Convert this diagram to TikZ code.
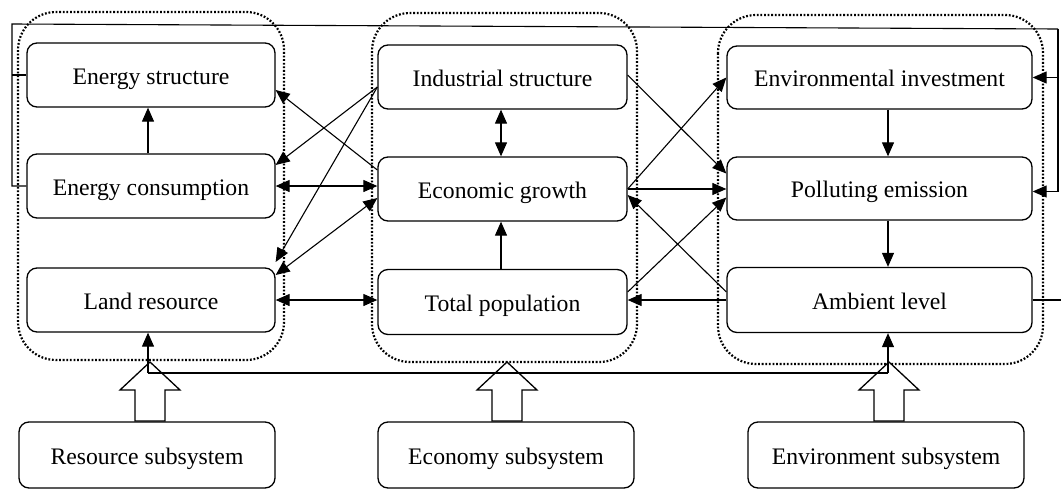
\documentclass[tikz,border=0pt]{standalone}
\usepackage{fontspec}
\setmainfont{Liberation Serif}
\usetikzlibrary{arrows.meta,calc}
\begin{document}
\begin{tikzpicture}[x=1pt,y=-1pt,
  box/.style={draw, line width=1.3pt, rounded corners=10pt, inner sep=0pt,
    text height=20pt, text depth=2pt,
    font=\fontsize{23.7}{28}\selectfont},
  group/.style={line width=2.2pt, dash pattern=on 1.8pt off 1.8pt, rounded corners=38pt},
  link/.style={line width=1.1pt},
  arr/.style={link, -{Triangle[length=14pt,width=12pt]}},
  biarr/.style={link, {Triangle[length=14pt,width=12pt]}-{Triangle[length=14pt,width=12pt]}},
  hollow/.style={draw, line width=1.3pt, fill=white},
  uparrow/.pic={\draw[hollow] (-15,0) -- (-15,-31) -- (-30,-31) -- (0,-59)
      -- (30,-31) -- (15,-31) -- (15,0) -- cycle;}]
\useasboundingbox (0,0) rectangle (1061,490);

% subsystem groups
\draw[group] (18,12) rectangle (284,360);
\draw[group] (372,13) rectangle (637,362);
\draw[group] (718,15) rectangle (1043,364);

% resource subsystem
\node[box, minimum width=248pt, minimum height=64pt] (es) at (151,75) {Energy structure};
\node[box, minimum width=248pt, minimum height=64pt] (ec) at (151,186) {Energy consumption};
\node[box, minimum width=248pt, minimum height=64pt] (land) at (151,300) {Land resource};

% economy subsystem
\node[box, minimum width=249pt, minimum height=64pt] (ind) at (502.5,77) {Industrial structure};
\node[box, minimum width=249pt, minimum height=64pt] (econ) at (502.5,189) {Economic growth};
\node[box, minimum width=249pt, minimum height=65pt] (total) at (502.5,302) {Total population};

% environment subsystem
\node[box, minimum width=305pt, minimum height=63pt] (env) at (879.5,77.5) {Environmental investment};
\node[box, minimum width=305pt, minimum height=63pt] (pol) at (879.5,188.5) {Polluting emission};
\node[box, minimum width=305pt, minimum height=65pt] (amb) at (879.5,300) {Ambient level};

% subsystem labels
\node[box, minimum width=256pt, minimum height=66pt] (res) at (147,455) {Resource subsystem};
\node[box, minimum width=256pt, minimum height=66pt] (eco) at (506,455) {Economy subsystem};
\node[box, minimum width=276pt, minimum height=66pt] (envs) at (886,455) {Environment subsystem};

% helper coordinates
\coordinate (tl) at (12,24);
\coordinate (tr) at (1058,29);
\coordinate (bl) at (148,373);
\coordinate (br) at (888,373);
\coordinate (mx) at (501,0);
\coordinate (ar) at (1061,300);

% links inside the groups
\draw[arr] (ec.north -| bl) -- (es.south -| bl);
\draw[biarr] (ind.south -| mx) -- (econ.north -| mx);
\draw[arr] (total.north -| mx) -- (econ.south -| mx);
\draw[arr] (env.south -| br) -- (pol.north -| br);
\draw[arr] (pol.south -| br) -- (amb.north -| br);

% resource <-> economy
\draw[arr] ([yshift=19pt]econ.west) -- ([yshift=-15pt]es.east);
\draw[arr] ([yshift=-10pt]ind.west) -- ([yshift=21pt]ec.east);
\draw[arr] ([yshift=-10pt]ind.west) -- ([yshift=38pt]land.east);
\draw[biarr] ([yshift=-9pt]econ.west) -- ([yshift=25pt]land.east);
\draw[biarr] (ec.east) -- (ec.east -| econ.west);
\draw[biarr] (land.east) -- (land.east -| total.west);

% economy <-> environment
\draw[arr] ([yshift=2pt]ind.east) -- ([yshift=15pt]pol.west);
\draw[arr] (econ.east) -- (env.west);
\draw[arr] (econ.east) -- (econ.east -| pol.west);
\draw[arr] ([yshift=10pt]total.east) -- ([yshift=-9pt]pol.west);
\draw[arr] ([yshift=8pt]amb.west) -- ([yshift=-6pt]econ.east);
\draw[arr] (amb.west) -- (amb.west -| total.east);

% feedback from the energy side to the environment side
\draw[link] (es.west) -- (es.west -| tl);
\draw[link] (ec.west) -| (tl) -- (tr);
\draw[arr] (tr) |- ([yshift=-3pt]pol.east);
\draw[arr] (env.east -| tr) -- (env.east);

% subsystem inputs
\pic at (150,421) {uparrow};
\pic at (507,421) {uparrow};
\pic at (889,421) {uparrow};

% feedback from ambient level
\draw[link] (amb.east) -- (amb.east -| ar);
\draw[link] (bl) -- (br);
\draw[arr] (bl) -- (bl |- land.south);
\draw[arr] (br) -- (br |- amb.south);
\end{tikzpicture}
\end{document}
